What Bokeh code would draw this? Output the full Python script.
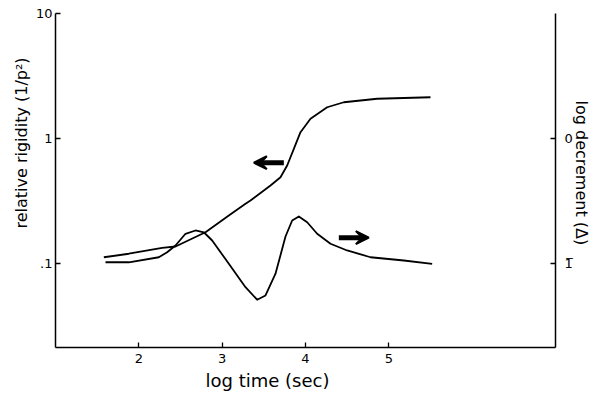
import math
from bokeh.plotting import figure
from bokeh.models import (Range1d, LogAxis, FixedTicker, Arrow, VeeHead, Title,
                          CustomJSTickFormatter)
from bokeh.embed import file_html
from bokeh.resources import INLINE

# ---------------- data ----------------
# relative rigidity (left axis, log scale) vs log time
rig_x = [1.58, 1.88, 2.28, 2.44, 2.80, 3.08, 3.28, 3.34, 3.58, 3.70, 3.78,
         3.86, 3.94, 4.06, 4.26, 4.46, 4.86, 5.50]
rig_y = [0.1122, 0.1197, 0.1336, 0.1368, 0.1778, 0.2421, 0.3006, 0.3192,
         0.4207, 0.490, 0.608, 0.827, 1.123, 1.438, 1.778, 1.950, 2.080, 2.138]

# log decrement (right axis, same decade spacing) vs log time
dec_x = [1.60, 1.88, 2.24, 2.34, 2.44, 2.56, 2.68, 2.78, 2.88, 3.08, 3.28,
         3.42, 3.52, 3.64, 3.76, 3.84, 3.92, 4.02, 4.14, 4.30, 4.50, 4.78,
         5.18, 5.52]
dec_y = [0.1023, 0.1023, 0.1122, 0.1231, 0.1393, 0.1729, 0.1837, 0.1778,
         0.1528, 0.0995, 0.0646, 0.0513, 0.0555, 0.0828, 0.1644, 0.2208,
         0.2377, 0.2138, 0.1729, 0.1439, 0.1271, 0.1122, 0.1057, 0.0995]

x_ticks = [2, 3, 4, 5]
left_ticks = [0.1, 1, 10]
right_ticks = [0.1, 1]

# arrows (data units): left-pointing for rigidity, right-pointing for decrement
arrow_left = dict(x0=3.74, x1=3.38, y=0.64)
arrow_right = dict(x0=4.40, x1=4.76, y=0.161)

X_MIN, X_MAX = 1, 7
Y_MIN, Y_MAX = 10 ** (-1.672), 10

FONT = "DejaVu Sans"

p = figure(width=611, height=400, x_range=Range1d(X_MIN, X_MAX),
           y_range=Range1d(Y_MIN, Y_MAX), y_axis_type="log",
           output_backend="svg", toolbar_location=None,
           min_border_left=55, min_border_right=56,
           min_border_top=13, min_border_bottom=53)
p.outline_line_color = None
p.xgrid.visible = False
p.ygrid.visible = False
p.background_fill_color = "white"
p.border_fill_color = "white"


def style_axis(ax, standoff):
    ax.axis_line_color = "black"
    ax.axis_line_width = 1.5
    ax.major_tick_line_color = "black"
    ax.major_tick_line_width = 1.3
    ax.major_tick_in = 5
    ax.major_tick_out = 0
    ax.minor_tick_line_color = None
    ax.major_label_text_font = FONT
    ax.major_label_text_font_size = "13px"
    ax.major_label_text_color = "black"
    ax.major_label_standoff = standoff


xa = p.xaxis[0]
xa.ticker = FixedTicker(ticks=x_ticks)
style_axis(xa, 6)

ya = p.yaxis[0]
ya.ticker = FixedTicker(ticks=left_ticks)
ya.formatter = CustomJSTickFormatter(
    code="return tick >= 5 ? '10' : (tick >= 0.5 ? '1' : '.1');")
style_axis(ya, 3)

ra = LogAxis(ticker=FixedTicker(ticks=right_ticks))
ra.formatter = CustomJSTickFormatter(
    code="return tick >= 0.5 ? '0' : '1\u0305';")
style_axis(ra, 9)
p.add_layout(ra, "right")

p.line(rig_x, rig_y, line_color="black", line_width=1.8, line_join="round")
p.line(dec_x, dec_y, line_color="black", line_width=1.8, line_join="round")

for a in (arrow_left, arrow_right):
    p.add_layout(Arrow(end=VeeHead(size=13, fill_color="black", line_color="black",
                                   line_width=2),
                       x_start=a["x0"], y_start=a["y"], x_end=a["x1"], y_end=a["y"],
                       line_color="black", line_width=5))


def side_title(text, side, offset, standoff, size):
    t = Title(text=text, text_font=FONT, text_font_size=size,
              text_font_style="normal", text_color="black", align="left",
              offset=offset, standoff=standoff)
    p.add_layout(t, side)


side_title("log time (sec)", "below", 150, 4, "18px")
side_title("relative rigidity (1/p²)", "left", 119, 4, "16px")
side_title("log decrement (Δ)", "right", 87, -7, "16px")

open("out.html", "w").write(file_html(p, INLINE))
